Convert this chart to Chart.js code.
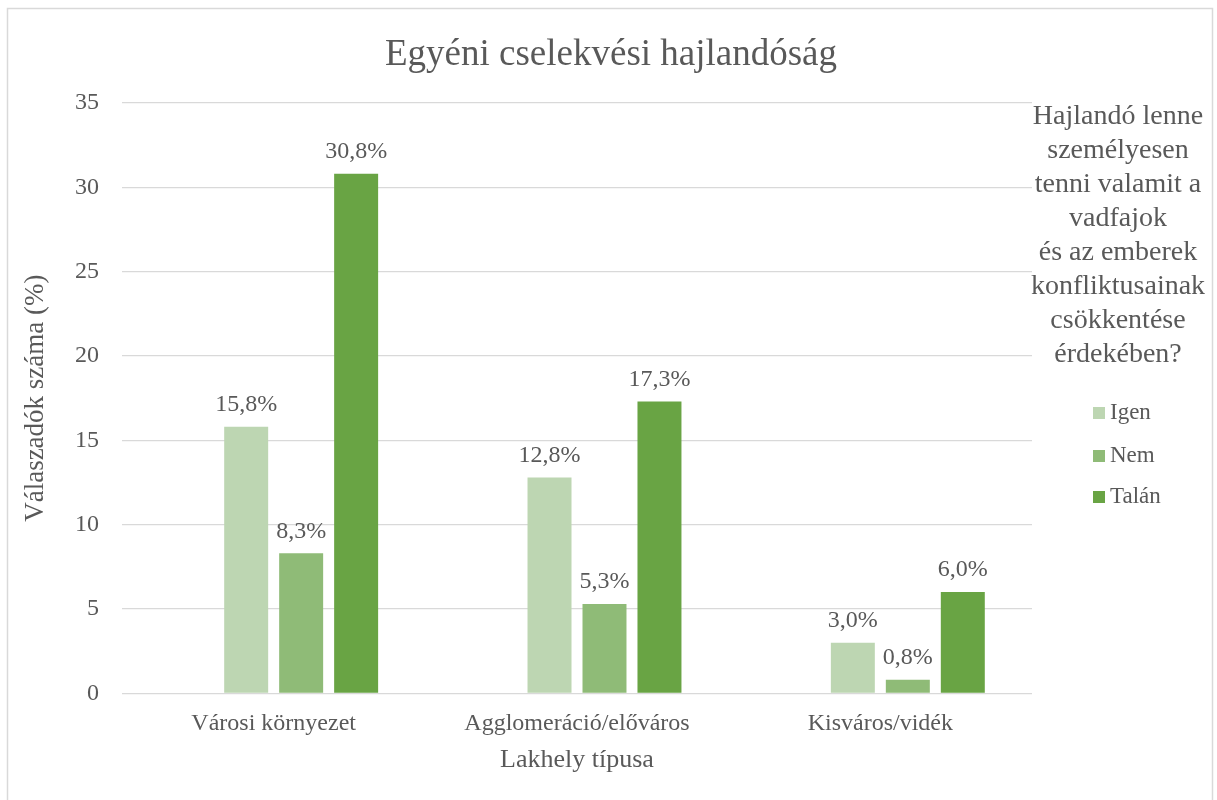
<!DOCTYPE html>
<html>
<head>
<meta charset="utf-8">
<script src="https://cdn.jsdelivr.net/npm/chart.js@4.4.1/dist/chart.umd.min.js"></script>
<style>
  html, body { margin: 0; padding: 0; background: #ffffff; }
  #wrap { position: relative; width: 1217px; height: 800px; }
</style>
</head>
<body>
<div id="wrap"><canvas id="c" width="1217" height="800"></canvas></div>
<script>
const categories = ['Városi környezet', 'Agglomeráció/előváros', 'Kisváros/vidék'];
const seriesNames = ['Igen', 'Nem', 'Talán'];
const igenValues = [15.8, 12.8, 3.0];
const nemValues = [8.3, 5.3, 0.8];
const talanValues = [30.8, 17.3, 6.0];
const emptyValues = [null, null, null];
const yTicks = [0, 5, 10, 15, 20, 25, 30, 35];
const chartTitle = 'Egyéni cselekvési hajlandóság';
const xTitle = 'Lakhely típusa';
const yTitle = 'Válaszadók száma (%)';
const legendTitleLines = ['Hajlandó lenne', 'személyesen', 'tenni valamit a', 'vadfajok', 'és az emberek', 'konfliktusainak', 'csökkentése', 'érdekében?'];

const colors = ['#BDD6B2', '#8FBB77', '#69A444'];
const textColor = '#595959';
const fontFamily = "'Liberation Serif', 'Times New Roman', serif";

const fmt = v => v.toFixed(1).replace('.', ',') + '%';

const borderPlugin = {
  id: 'outerBorder',
  beforeDraw(chart) {
    const ctx = chart.ctx;
    ctx.save();
    ctx.fillStyle = '#ffffff';
    ctx.fillRect(0, 0, chart.width, chart.height);
    ctx.strokeStyle = '#d9d9d9';
    ctx.lineWidth = 1.5;
    ctx.strokeRect(7.5, 8.5, 1205, 800);
    ctx.fillStyle = textColor;
    ctx.font = '37px ' + fontFamily;
    ctx.textAlign = 'center';
    ctx.textBaseline = 'middle';
    ctx.fillText(chartTitle, 611, 55);
    ctx.restore();
  }
};

const labelPlugin = {
  id: 'valueLabels',
  afterDatasetsDraw(chart) {
    const ctx = chart.ctx;
    ctx.save();
    ctx.font = '24px ' + fontFamily;
    ctx.fillStyle = textColor;
    ctx.textAlign = 'center';
    ctx.textBaseline = 'middle';
    chart.data.datasets.forEach((ds, di) => {
      if (ds.isEmpty) return;
      const meta = chart.getDatasetMeta(di);
      meta.data.forEach((el, i) => {
        const v = ds.data[i];
        if (v === null || v === undefined) return;
        ctx.fillText(fmt(v), el.x, el.y - 22);
      });
    });
    ctx.restore();
  }
};

const legendPlugin = {
  id: 'customLegend',
  afterDraw(chart) {
    const ctx = chart.ctx;
    ctx.save();
    ctx.fillStyle = textColor;
    ctx.textAlign = 'center';
    ctx.textBaseline = 'middle';
    ctx.font = '28px ' + fontFamily;
    legendTitleLines.forEach((line, i) => {
      ctx.fillText(line, 1118, 117 + i * 33.9);
    });
    const itemY = [413, 456, 497];
    ctx.font = '23px ' + fontFamily;
    ctx.textAlign = 'left';
    const visible = chart.data.datasets.filter(d => !d.isEmpty);
    visible.forEach((ds, i) => {
      ctx.fillStyle = ds.backgroundColor;
      ctx.fillRect(1093, itemY[i] - 6, 12, 12);
      ctx.fillStyle = textColor;
      ctx.fillText(ds.label, 1110, itemY[i]);
    });
    ctx.restore();
  }
};

new Chart(document.getElementById('c'), {
  type: 'bar',
  data: {
    labels: categories,
    datasets: [
      { label: '', data: emptyValues, backgroundColor: 'rgba(0,0,0,0)', isEmpty: true },
      { label: seriesNames[0], data: igenValues, backgroundColor: colors[0] },
      { label: seriesNames[1], data: nemValues, backgroundColor: colors[1] },
      { label: seriesNames[2], data: talanValues, backgroundColor: colors[2] }
    ]
  },
  options: {
    responsive: false,
    animation: false,
    devicePixelRatio: 1,
    layout: { padding: { left: 0, right: 185, top: 103, bottom: 0 } },
    datasets: { bar: { categoryPercentage: 0.725, barPercentage: 0.8 } },
    plugins: {
      legend: { display: false },
      tooltip: { enabled: false },
      title: { display: false }
    },
    scales: {
      x: {
        grid: { display: false, drawTicks: false },
        border: { display: false },
        ticks: { color: textColor, font: { family: fontFamily, size: 24 }, padding: 16 },
        title: {
          display: true, text: xTitle, color: textColor,
          font: { family: fontFamily, size: 26 },
          padding: { top: 0, bottom: 24 }
        },
        afterFit(scale) { scale.height = 106.7; }
      },
      y: {
        min: 0, max: 35,
        afterBuildTicks(scale) { scale.ticks = yTicks.map(v => ({ value: v })); },
        grid: { color: '#d9d9d9', lineWidth: 1.3, drawTicks: false },
        border: { display: false },
        ticks: { color: textColor, font: { family: fontFamily, size: 24 }, padding: 23 },
        title: {
          display: true, text: yTitle, color: textColor,
          font: { family: fontFamily, size: 27 },
          padding: { top: 20, bottom: 0 }
        },
        afterFit(scale) { scale.width = 122; }
      }
    }
  },
  plugins: [borderPlugin, labelPlugin, legendPlugin]
});
</script>
</body>
</html>
